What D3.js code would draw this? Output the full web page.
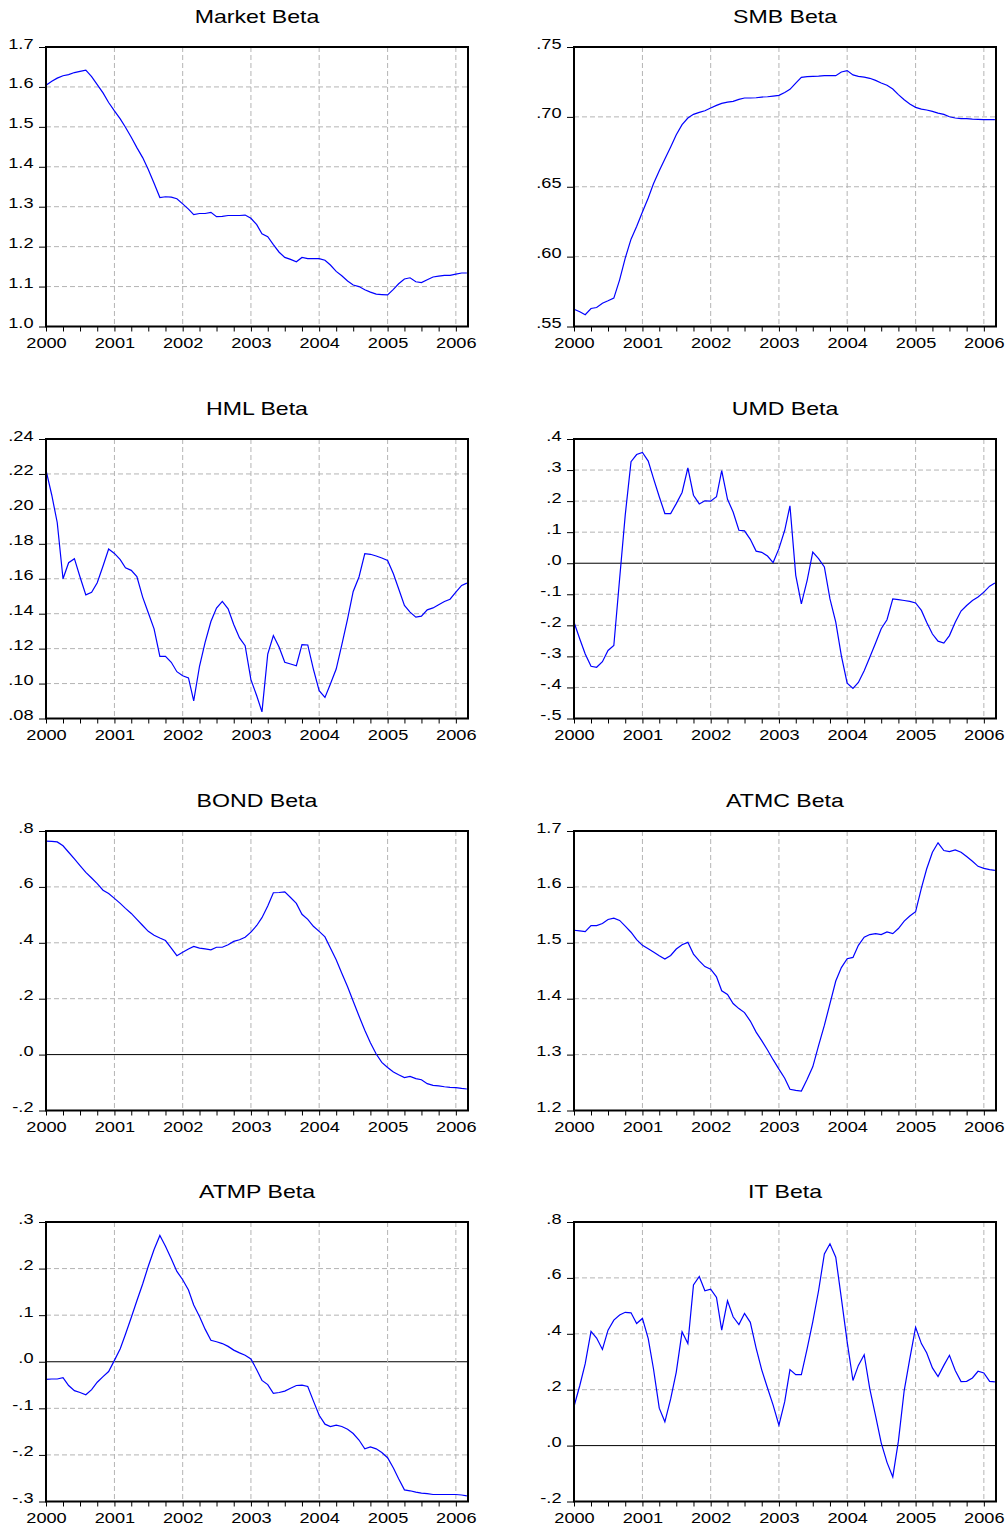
<!DOCTYPE html>
<html>
<head>
<meta charset="utf-8">
<script src="https://cdn.jsdelivr.net/npm/d3@7"></script>
<style>
  body { margin: 0; background: #fff; }
  svg { display: block; }
</style>
</head>
<body>
<script>
// monthly observations, Jan 2000 .. Mar 2006
var months = d3.timeMonth.range(new Date(2000, 0, 1), new Date(2006, 3, 1));
var years = ['2000', '2001', '2002', '2003', '2004', '2005', '2006'];

var marketBeta = [1.604,1.614,1.622,1.628,1.631,1.636,1.639,1.642,1.626,1.606,1.585,1.561,1.540,1.520,1.499,1.474,
  1.448,1.423,1.393,1.359,1.323,1.325,1.324,1.320,1.307,1.294,1.280,1.283,1.283,1.286,1.275,1.276,1.278,1.278,1.278,1.279,
  1.271,1.255,1.232,1.225,1.205,1.186,1.173,1.168,1.162,1.173,1.170,1.170,1.170,1.166,1.154,1.138,1.127,1.114,1.104,1.100,
  1.092,1.086,1.081,1.080,1.079,1.093,1.107,1.119,1.122,1.112,1.110,1.117,1.124,1.126,1.128,1.128,1.131,1.134,1.134];
var smbBeta = [0.5624,0.5605,0.5584,0.5629,0.5636,0.5667,0.5684,0.5703,0.5834,0.5989,0.6125,0.6216,0.6319,0.6419,0.6521,
  0.6615,0.6698,0.6784,0.6872,0.6944,0.6992,0.7018,0.7032,0.7044,0.7063,0.7082,0.7097,0.7106,0.7111,0.7125,0.7135,0.7135,
  0.7137,0.7142,0.7144,0.7149,0.7154,0.7175,0.7197,0.7242,0.7283,0.7288,0.7290,0.7292,0.7295,0.7295,0.7295,0.7321,0.7331,
  0.7300,0.7290,0.7285,0.7276,0.7261,0.7242,0.7226,0.7199,0.7159,0.7123,0.7092,0.7068,0.7056,0.7049,0.7039,0.7027,0.7018,
  0.7001,0.6992,0.6987,0.6987,0.6984,0.6982,0.6980,0.6980,0.6980];
var hmlBeta = [0.2222,0.2078,0.1922,0.1600,0.1692,0.1715,0.1610,0.1508,0.1522,0.1577,0.1673,0.1770,0.1745,0.1709,0.1663,
  0.1648,0.1613,0.1495,0.1405,0.1313,0.1156,0.1156,0.1122,0.1068,0.1045,0.1032,0.0901,0.1099,0.1236,0.1355,0.1432,0.1470,
  0.1428,0.1338,0.1261,0.1217,0.1022,0.0930,0.0838,0.1169,0.1275,0.1208,0.1122,0.1112,0.1102,0.1223,0.1221,0.1083,0.0959,
  0.0921,0.0997,0.1083,0.1221,0.1370,0.1527,0.1610,0.1744,0.1740,0.1730,0.1719,0.1705,0.1629,0.1543,0.1447,0.1409,0.1380,
  0.1386,0.1422,0.1433,0.1451,0.1470,0.1483,0.1523,0.1562,0.1575];
var umdBeta = [-0.190,-0.244,-0.292,-0.332,-0.335,-0.317,-0.281,-0.265,-0.050,0.155,0.327,0.350,0.357,0.329,0.273,0.214,
  0.160,0.160,0.192,0.228,0.307,0.219,0.191,0.201,0.200,0.214,0.298,0.206,0.165,0.106,0.104,0.077,0.039,0.035,0.023,0.002,
  0.047,0.106,0.185,-0.039,-0.131,-0.055,0.036,0.015,-0.012,-0.115,-0.190,-0.298,-0.386,-0.403,-0.384,-0.346,-0.303,-0.257,
  -0.211,-0.182,-0.115,-0.117,-0.120,-0.123,-0.128,-0.152,-0.190,-0.228,-0.251,-0.257,-0.233,-0.190,-0.154,-0.136,-0.120,
  -0.109,-0.093,-0.074,-0.064];
var bondBeta = [0.764,0.763,0.761,0.747,0.724,0.700,0.676,0.652,0.632,0.612,0.588,0.576,0.559,0.541,0.523,0.505,0.484,
  0.462,0.441,0.427,0.417,0.408,0.381,0.354,0.366,0.378,0.387,0.381,0.378,0.375,0.384,0.384,0.393,0.405,0.411,0.420,0.438,
  0.462,0.490,0.532,0.579,0.580,0.582,0.562,0.541,0.502,0.484,0.459,0.441,0.421,0.381,0.339,0.291,0.243,0.191,0.138,0.087,
  0.042,0.002,-0.028,-0.046,-0.062,-0.072,-0.082,-0.078,-0.086,-0.090,-0.104,-0.110,-0.112,-0.115,-0.117,-0.118,-0.121,-0.123];
var atmcBeta = [1.5225,1.5213,1.5201,1.5309,1.5309,1.5345,1.5418,1.5442,1.5400,1.5297,1.5189,1.5057,1.4954,1.4894,1.4834,
  1.4768,1.4708,1.4774,1.4888,1.4966,1.5008,1.4798,1.4678,1.4575,1.4527,1.4395,1.4142,1.4076,1.3913,1.3823,1.3751,1.3600,
  1.3402,1.3251,1.3083,1.2909,1.2740,1.2578,1.2379,1.2361,1.2349,1.2560,1.2782,1.3161,1.3522,1.3913,1.4317,1.4557,1.4714,
  1.4738,1.4954,1.5099,1.5147,1.5165,1.5147,1.5195,1.5165,1.5255,1.5387,1.5478,1.5556,1.5977,1.6320,1.6621,1.6789,1.6651,
  1.6633,1.6663,1.6621,1.6543,1.6458,1.6368,1.6332,1.6308,1.6296];
var atmpBeta = [-0.038,-0.037,-0.037,-0.034,-0.051,-0.062,-0.066,-0.071,-0.060,-0.044,-0.032,-0.021,0.003,0.028,0.059,
  0.095,0.131,0.167,0.205,0.241,0.271,0.248,0.221,0.194,0.176,0.154,0.122,0.097,0.070,0.046,0.043,0.039,0.033,0.025,0.019,
  0.014,0.006,-0.017,-0.040,-0.049,-0.068,-0.066,-0.063,-0.057,-0.051,-0.050,-0.053,-0.084,-0.115,-0.134,-0.139,-0.136,
  -0.139,-0.145,-0.154,-0.168,-0.187,-0.183,-0.187,-0.195,-0.206,-0.228,-0.251,-0.275,-0.277,-0.280,-0.282,-0.283,-0.285,
  -0.285,-0.285,-0.285,-0.285,-0.286,-0.288];
var itBeta = [0.140,0.215,0.293,0.409,0.385,0.344,0.413,0.449,0.467,0.477,0.475,0.437,0.455,0.383,0.275,0.134,0.085,0.167,
  0.263,0.407,0.365,0.575,0.605,0.554,0.560,0.530,0.413,0.518,0.461,0.433,0.473,0.441,0.349,0.271,0.206,0.145,0.073,0.157,
  0.272,0.254,0.254,0.347,0.443,0.554,0.686,0.722,0.674,0.527,0.371,0.233,0.287,0.325,0.203,0.106,0.010,-0.060,-0.112,
  0.016,0.197,0.311,0.423,0.365,0.332,0.278,0.247,0.287,0.323,0.269,0.229,0.230,0.242,0.266,0.260,0.230,0.228];

var marketTicks = [1.0, 1.1, 1.2, 1.3, 1.4, 1.5, 1.6, 1.7];
var smbTicks = [0.55, 0.60, 0.65, 0.70, 0.75];
var hmlTicks = [0.08, 0.10, 0.12, 0.14, 0.16, 0.18, 0.20, 0.22, 0.24];
var umdTicks = [-0.5, -0.4, -0.3, -0.2, -0.1, 0, 0.1, 0.2, 0.3, 0.4];
var bondTicks = [-0.2, 0, 0.2, 0.4, 0.6, 0.8];
var atmcTicks = [1.2, 1.3, 1.4, 1.5, 1.6, 1.7];
var atmpTicks = [-0.3, -0.2, -0.1, 0, 0.1, 0.2, 0.3];
var itTicks = [-0.2, 0, 0.2, 0.4, 0.6, 0.8];

var panels = [
  { title: 'Market Beta', values: marketBeta, ticks: marketTicks, fmt: '.1f' },
  { title: 'SMB Beta', values: smbBeta, ticks: smbTicks, fmt: '.2f' },
  { title: 'HML Beta', values: hmlBeta, ticks: hmlTicks, fmt: '.2f' },
  { title: 'UMD Beta', values: umdBeta, ticks: umdTicks, fmt: '.1f' },
  { title: 'BOND Beta', values: bondBeta, ticks: bondTicks, fmt: '.1f' },
  { title: 'ATMC Beta', values: atmcBeta, ticks: atmcTicks, fmt: '.1f' },
  { title: 'ATMP Beta', values: atmpBeta, ticks: atmpTicks, fmt: '.1f' },
  { title: 'IT Beta', values: itBeta, ticks: itTicks, fmt: '.1f' }
];

var W = 1008, H = 1525;
var colX = [46, 574], rowY = [47, 439, 831, 1222];
var pw = 422, ph = 279.5;
var font = '"Liberation Sans", Arial, sans-serif';
var stretch = 1.3;   // the original is drawn horizontally stretched

// plain hyphen for negatives, like the original
var locale = d3.formatLocale({ decimal: '.', thousands: ',', grouping: [3], currency: ['', ''], minus: '-' });

var svg = d3.select('body').append('svg').attr('width', W).attr('height', H);

var x = d3.scaleTime()
  .domain([new Date(2000, 0, 1), new Date(2006, 2, 7)])
  .range([0, pw]);
var yearDates = years.map(function(s) { return new Date(+s, 0, 1); });
var quarters = d3.timeMonth.every(3).range(new Date(2000, 0, 1), x.domain()[1]);

panels.forEach(function(p, i) {
  var g = svg.append('g')
    .attr('transform', 'translate(' + colX[i % 2] + ',' + rowY[Math.floor(i / 2)] + ')');
  var y = d3.scaleLinear().domain(d3.extent(p.ticks)).range([ph, 0]);
  var f = locale.format(p.fmt);
  var label = function(v) { return f(v).replace(/^(-?)0\./, '$1.'); };

  // horizontal grid, zero line solid
  g.selectAll('line.hgrid')
    .data(p.ticks.slice(1, -1))
    .join('line')
    .attr('class', 'hgrid')
    .attr('x1', 0).attr('x2', pw)
    .attr('y1', function(d) { return y(d); })
    .attr('y2', function(d) { return y(d); })
    .attr('stroke', function(d) { return d === 0 ? '#000' : '#b4b4b4'; })
    .attr('stroke-dasharray', function(d) { return d === 0 ? null : '5,3'; });

  // vertical grid at years
  g.selectAll('line.vgrid')
    .data(yearDates.slice(1))
    .join('line')
    .attr('class', 'vgrid')
    .attr('x1', function(d) { return x(d); })
    .attr('x2', function(d) { return x(d); })
    .attr('y1', 0).attr('y2', ph)
    .attr('stroke', '#b4b4b4')
    .attr('stroke-dasharray', '5,3');

  var line = d3.line()
    .x(function(d, j) { return x(months[j]); })
    .y(function(d) { return y(d); });

  g.append('path')
    .datum(p.values)
    .attr('d', line)
    .attr('fill', 'none')
    .attr('stroke', '#0000ff')
    .attr('stroke-width', 1.2);

  g.append('rect')
    .attr('width', pw).attr('height', ph)
    .attr('fill', 'none')
    .attr('stroke', '#000')
    .attr('stroke-width', 2);

  // y axis
  var ya = g.append('g')
    .call(d3.axisLeft(y).tickValues(p.ticks).tickSize(7).tickFormat(label))
    .attr('font-family', font)
    .attr('font-size', 14);
  ya.select('.domain').remove();
  ya.selectAll('.tick line').attr('stroke', '#000');
  ya.selectAll('.tick text')
    .attr('fill', '#000')
    .attr('x', -12.5 / stretch)
    .attr('y', 1)
    .attr('dy', null)
    .attr('transform', 'scale(' + stretch + ',1)');

  // x axis: quarterly ticks, labels at years
  var xa = g.append('g')
    .attr('transform', 'translate(0,' + ph + ')')
    .call(d3.axisBottom(x).tickValues(quarters).tickSize(5)
      .tickFormat(function(d) { return d.getMonth() === 0 ? years[d.getFullYear() - 2000] : ''; }))
    .attr('font-family', font)
    .attr('font-size', 14);
  xa.select('.domain').remove();
  xa.selectAll('.tick line').attr('stroke', '#000');
  xa.selectAll('.tick text')
    .attr('fill', '#000')
    .attr('y', 21.6)
    .attr('dy', null)
    .attr('transform', 'scale(' + stretch + ',1)');

  g.append('text')
    .attr('transform', 'translate(' + (pw / 2) + ',-23.7) scale(1.25,1)')
    .attr('text-anchor', 'middle')
    .attr('font-family', font)
    .attr('font-size', 18.5)
    .attr('fill', '#000')
    .text(p.title);
});
</script>
</body>
</html>
